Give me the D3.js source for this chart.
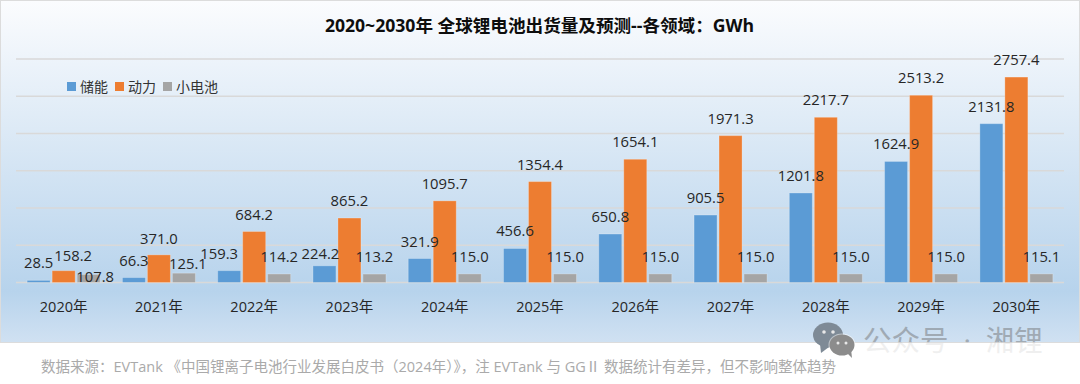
<!DOCTYPE html>
<html>
<head>
<meta charset="utf-8">
<script src="https://cdn.jsdelivr.net/npm/d3@7"></script>
<style>
    html, body { margin: 0; padding: 0; background: #fff; }
    text { font-family: "Open Sans", "Noto Sans CJK SC", sans-serif; }
</style>
</head>
<body>
<svg id="chart" width="1080" height="384"></svg>
<script>
const years = ["2020年", "2021年", "2022年", "2023年", "2024年", "2025年", "2026年", "2027年", "2028年", "2029年", "2030年"];
const storage = [28.5, 66.3, 159.3, 224.2, 321.9, 456.6, 650.8, 905.5, 1201.8, 1624.9, 2131.8];
const power = [158.2, 371.0, 684.2, 865.2, 1095.7, 1354.4, 1654.1, 1971.3, 2217.7, 2513.2, 2757.4];
const small = [107.8, 125.1, 114.2, 113.2, 115.0, 115.0, 115.0, 115.0, 115.0, 115.0, 115.1];
const yTicks = [0, 500, 1000, 1500, 2000, 2500, 3000];
const seriesNames = ["储能", "动力", "小电池"];

const colors = ["#5b9bd5", "#ed7d31", "#a5a5a5"];
const series = [storage, power, small];

const svg = d3.select("#chart");

const defs = svg.append("defs");
const grad = defs.append("linearGradient")
    .attr("id", "bg")
    .attr("x1", 0).attr("y1", 0).attr("x2", 0).attr("y2", 1);
grad.append("stop").attr("offset", "0%").attr("stop-color", "#fbfcfe");
grad.append("stop").attr("offset", "85%").attr("stop-color", "#b7d3ec");
grad.append("stop").attr("offset", "100%").attr("stop-color", "#d0e1f2");

// watermark is stronger over the chart panel than over the white strip below it
defs.append("clipPath").attr("id", "onPanel")
    .append("rect").attr("x", 0).attr("y", 0).attr("width", 1080).attr("height", 342);
defs.append("clipPath").attr("id", "offPanel")
    .append("rect").attr("x", 0).attr("y", 342).attr("width", 1080).attr("height", 42);

svg.append("rect")
    .attr("x", 0.5).attr("y", 0.5)
    .attr("width", 1079).attr("height", 342)
    .attr("fill", "url(#bg)")
    .attr("stroke", "#dcdcdc");

const x = d3.scaleBand()
    .domain(years)
    .range([16, 1064]);

const y = d3.scaleLinear()
    .domain([0, 3000])
    .range([282.5, 59]);

// grid lines
svg.append("g")
    .selectAll("line")
    .data(yTicks)
    .enter().append("line")
    .attr("x1", 16)
    .attr("x2", 1064)
    .attr("y1", d => y(d))
    .attr("y2", d => y(d))
    .attr("stroke", "#d9d9d9")
    .attr("stroke-width", 1.3);

const barW = 23, barStep = 25;
const barX = (i, s) => x(years[i]) + x.bandwidth() / 2 - barW / 2 + (s - 1) * barStep;

series.forEach((values, s) => {
    svg.append("g")
        .selectAll("rect")
        .data(values)
        .enter().append("rect")
        .attr("x", (d, i) => barX(i, s))
        .attr("y", d => y(d))
        .attr("width", barW)
        .attr("height", d => y(0) - y(d))
        .attr("fill", colors[s])
        .attr("stroke", "#fff")
        .attr("stroke-opacity", 0.25);
});

// data labels, the overlapping ones were moved by hand in the original
// key is yearIndex-seriesIndex
const nudge = {
    "0-1": [9.5, 2.7], "0-2": [6.5, 20],
    "1-1": [0, 1], "1-2": [4, 8],
    "2-0": [-10, 0],
    "3-0": [-4, 5]
};
series.forEach((values, s) => {
    svg.append("g")
        .selectAll("text")
        .data(values)
        .enter().append("text")
        .attr("x", (d, i) => barX(i, s) + barW / 2 + (nudge[i + "-" + s] || [0, 0])[0])
        .attr("y", (d, i) => y(d) - 12 + (nudge[i + "-" + s] || [0, 0])[1])
        .attr("text-anchor", "middle")
        .attr("font-size", 14.8)
        .attr("fill", "#262626")
        .text(d => d.toFixed(1));
});

// x axis labels
svg.append("g")
    .selectAll("text")
    .data(years)
    .enter().append("text")
    .attr("x", d => x(d) + x.bandwidth() / 2)
    .attr("y", 311.5)
    .attr("text-anchor", "middle")
    .attr("font-size", 14.5)
    .attr("fill", "#262626")
    .text(d => d);

// title
svg.append("text")
    .attr("x", 539.5)
    .attr("y", 32)
    .attr("text-anchor", "middle")
    .attr("font-size", 17.6)
    .attr("font-weight", "bold")
    .attr("fill", "#0d0d0d")
    .text("2020~2030年 全球锂电池出货量及预测--各领域：GWh");

// legend
const legendX = [67, 115, 163];
const legend = svg.append("g")
    .selectAll("g")
    .data(seriesNames)
    .enter().append("g")
    .attr("transform", (d, i) => `translate(${legendX[i]},82)`);
legend.append("rect")
    .attr("width", 9)
    .attr("height", 9)
    .attr("fill", (d, i) => colors[i]);
legend.append("text")
    .attr("x", 13)
    .attr("y", 10)
    .attr("font-size", 14)
    .attr("fill", "#333")
    .text(d => d);

// source note
svg.append("text")
    .attr("x", 41)
    .attr("y", 372)
    .attr("font-size", 14.5)
    .attr("fill", "#aaa")
    .text("数据来源：EVTank 《中国锂离子电池行业发展白皮书（2024年）》，注 EVTank 与 GGⅡ 数据统计有差异，但不影响整体趋势");

// watermark
const drawMark = (clip, op) => {
    svg.append("text")
        .attr("clip-path", `url(#${clip})`)
        .attr("x", 863)
        .attr("y", 351)
        .attr("font-size", 28.5)
        .attr("word-spacing", 7.5)
        .attr("fill", "#6b6b6b")
        .attr("opacity", op)
        .text("公众号 · 湘锂");
};
drawMark("onPanel", 0.45);
drawMark("offPanel", 0.1);

const icon = svg.append("g");
icon.append("ellipse").attr("cx", 828).attr("cy", 335).attr("rx", 15).attr("ry", 12.5).attr("fill", "#7e8a96");
icon.append("path").attr("d", "M820 344l1 9 8-6z").attr("fill", "#7e8a96");
icon.append("ellipse").attr("cx", 842).attr("cy", 345).attr("rx", 13.5).attr("ry", 11.5).attr("fill", "#fff").attr("opacity", 0.5);
icon.append("ellipse").attr("cx", 842).attr("cy", 345).attr("rx", 12.5).attr("ry", 10.5).attr("fill", "#8c8c8c");
icon.append("path").attr("d", "M846 352l6 6-1-9z").attr("fill", "#8c8c8c");
const dots = [[824, 332, 1.8], [833, 332, 1.8], [838, 343, 1.5], [846, 343, 1.5]];
icon.selectAll("circle")
    .data(dots)
    .enter().append("circle")
    .attr("cx", d => d[0])
    .attr("cy", d => d[1])
    .attr("r", d => d[2])
    .attr("fill", "#e8e8e8");
</script>
</body>
</html>
